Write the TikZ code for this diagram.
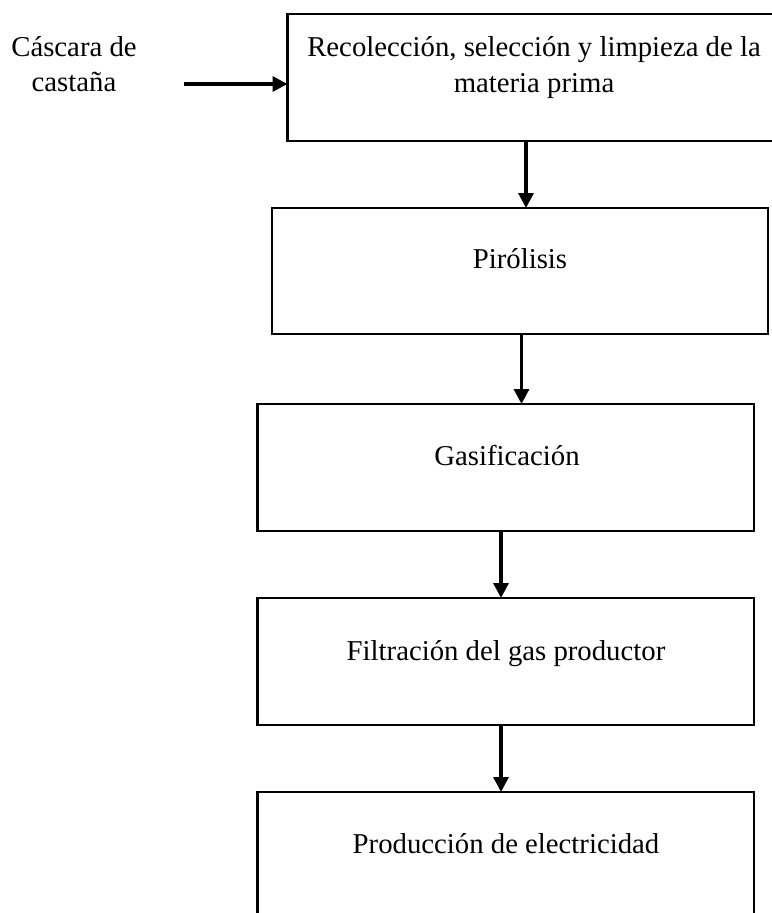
\documentclass[tikz,border=0pt]{standalone}
\usepackage{fontspec}
\setmainfont{Liberation Serif}
\usetikzlibrary{arrows.meta,calc}
\begin{document}
\begin{tikzpicture}[x=0.4pt,y=-0.4pt,
  box/.style={draw=black,line width=0.9pt,fill=none,inner sep=0pt,outer sep=0pt,anchor=north west},
  txt/.style={inner sep=0pt,outer sep=0pt,anchor=base,align=center,font=\fontsize{11.5}{14}\selectfont},
  arr/.style={line width=1.3pt,-{Triangle[length=6pt,width=6pt]}}]
\useasboundingbox (0,0) rectangle (772,913);
\clip (0,0) rectangle (772,913);
% boxes
\node[box,minimum width=197pt,minimum height=50.8pt] (b1) at (287.5,14) {};
\node[box,minimum width=198.4pt,minimum height=50.4pt] (b2) at (272,208) {};
\node[box,minimum width=198.6pt,minimum height=50.8pt] (b3) at (257.5,404) {};
\node[box,minimum width=198.6pt,minimum height=50.8pt] (b4) at (257.5,598) {};
\node[box,minimum width=198.6pt,minimum height=55.2pt] (b5) at (257.5,792) {};
% texts
\node[txt] (t1) at (534,92) {Recolección, selección y limpieza de la\\materia prima};
\node[txt] (t2) at (520,268) {Pirólisis};
\node[txt] (t3) at (507,465) {Gasificación};
\node[txt] (t4) at (506,660) {Filtración del gas productor};
\node[txt] (t5) at (506,853) {Producción de electricidad};
\node[txt] (in) at (74,91) {Cáscara de\\castaña};
% arrow positions
\coordinate (a1) at (526,0);
\coordinate (a2) at (521.5,0);
\coordinate (a3) at (501,0);
\coordinate (s0) at (184,84);
\draw[arr] (s0) -- (s0 -| b1.west);
\draw[arr] (a1 |- b1.south) -- (a1 |- b2.north);
\draw[arr] (a2 |- b2.south) -- (a2 |- b3.north);
\draw[arr] (a3 |- b3.south) -- (a3 |- b4.north);
\draw[arr] (a3 |- b4.south) -- (a3 |- b5.north);
\end{tikzpicture}
\end{document}
